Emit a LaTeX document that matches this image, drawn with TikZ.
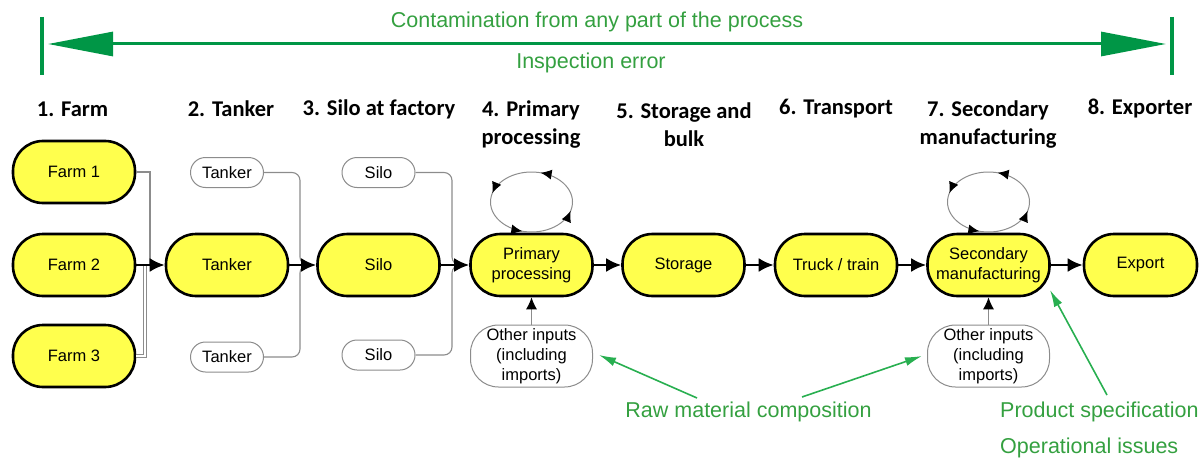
\documentclass[tikz,border=0pt]{standalone}
\usepackage{fontspec}
\setmainfont{Liberation Sans}
\newfontfamily\headfont{Carlito}
\usetikzlibrary{arrows.meta,decorations.markings}

\definecolor{boxyellow}{RGB}{255,255,77}
\definecolor{spangreen}{RGB}{0,150,70}
\definecolor{notegreen}{RGB}{52,160,64}
\definecolor{ptrgreen}{RGB}{40,175,80}
\definecolor{feedgray}{RGB}{140,140,140}

\begin{document}
\begin{tikzpicture}[x=1pt,y=1pt,
  stagebox/.style={draw=black, line width=2.6pt, fill=boxyellow, rounded corners=30pt,
    minimum width=122pt, minimum height=62pt, inner sep=0pt, align=center,
    font=\fontsize{16.5}{20}\selectfont},
  unitbox/.style={draw=feedgray, line width=1pt, fill=white, rounded corners=15pt,
    minimum width=73pt, minimum height=30pt, inner sep=0pt,
    font=\fontsize{16.5}{20}\selectfont},
  inbox/.style={draw=feedgray, line width=1pt, fill=white, rounded corners=28pt,
    minimum width=122pt, minimum height=62pt, inner sep=0pt, align=center,
    font=\fontsize{16.5}{20}\selectfont},
  hdr/.style={font=\headfont\bfseries\fontsize{22.5}{28}\selectfont, align=center, inner sep=0pt},
  notetext/.style={text=notegreen, font=\fontsize{21.5}{26}\selectfont, inner sep=0pt},
  flowarrow/.style={line width=2.6pt, -{Latex[length=15pt,width=14pt]}},
  feedline/.style={draw=feedgray, line width=1.1pt},
  inarrow/.style={draw=feedgray, line width=1.1pt, -{Latex[length=12pt,width=11pt,color=black]}},
  ptr/.style={draw=ptrgreen, line width=1.6pt, -{Latex[length=17pt,width=9pt]}},
  cyclepath/.style={draw=feedgray, line width=1pt, postaction={decorate},
    decoration={markings,
      mark=at position 0.11 with {\arrow[black]{Latex[length=11pt,width=10pt]}},
      mark=at position 0.36 with {\arrow[black]{Latex[length=11pt,width=10pt]}},
      mark=at position 0.61 with {\arrow[black]{Latex[length=11pt,width=10pt]}},
      mark=at position 0.86 with {\arrow[black]{Latex[length=11pt,width=10pt]}}}}
]
\useasboundingbox (0,0) rectangle (1204,459);

% ---- span arrow across the whole chain
\coordinate (spanL) at (48,415);
\coordinate (spanR) at (1166,415);
\coordinate (barLt) at (41.5,442);
\coordinate (barLb) at (41.5,384);
\coordinate (barRt) at (1172,442);
\coordinate (barRb) at (1172,384);
\draw[spangreen, line width=4pt] (barLt) -- (barLb);
\draw[spangreen, line width=4pt] (barRt) -- (barRb);
\draw[spangreen, line width=3pt,
  {Triangle[length=65pt,width=24pt]}-{Triangle[length=65pt,width=24pt]}] (spanL) -- (spanR);
\node[notetext] (contam) at (597,437) {Contamination from any part of the process};
\node[notetext] (inspect) at (591,396) {Inspection error};

% ---- stage headings
\node[hdr] (h1) at (72.5,350) {1. Farm};
\node[hdr] (h2) at (231,350) {2. Tanker};
\node[hdr] (h3) at (379,350) {3. Silo at factory};
\node[hdr] (h4) at (531,334.5) {4. Primary\\processing};
\node[hdr] (h5) at (684,334.5) {5. Storage and\\bulk};
\node[hdr] (h6) at (836,350) {6. Transport};
\node[hdr] (h7) at (988,334.5) {7. Secondary\\manufacturing};
\node[hdr] (h8) at (1140,350) {8. Exporter};

% ---- main chain
\node[stagebox] (f1) at (74,287) {Farm 1};
\node[stagebox] (f2) at (74,194) {Farm 2};
\node[stagebox] (f3) at (74,103) {Farm 3};
\node[stagebox] (tk) at (227,194) {Tanker};
\node[stagebox] (sl) at (378.5,194) {Silo};
\node[stagebox] (pp) at (531.5,194) {Primary\\processing};
\node[stagebox] (st) at (683.5,194) {Storage};
\node[stagebox] (tr) at (836,194) {Truck / train};
\node[stagebox] (sm) at (988.5,194) {Secondary\\manufacturing};
\node[stagebox, minimum width=113pt] (ex) at (1140.5,194) {Export};

% ---- parallel units
\node[unitbox] (tkA) at (227,286.5) {Tanker};
\node[unitbox] (tkB) at (227,102) {Tanker};
\node[unitbox] (slA) at (378.5,286.5) {Silo};
\node[unitbox] (slB) at (378.5,104) {Silo};

% ---- other inputs
\node[inbox] (oi1) at (531.5,103) {Other inputs\\(including\\imports)};
\node[inbox] (oi2) at (988.5,103) {Other inputs\\(including\\imports)};

% ---- feeder lines merging into the chain
\coordinate (m1) at (150,194);
\coordinate (m3) at (145,194);
\draw[feedline] (f1.east) -| (m1);
\draw[feedline, line width=0.9pt, double=white, double distance=2pt] (f3.east) -| (m3);
\coordinate (m2) at (312,194);
\coordinate (m4) at (464,194);
\draw[feedline, rounded corners=8pt] (tkA.east) -- (300,286.5) -- (300,194) -- (m2);
\draw[feedline, rounded corners=8pt] (tkB.east) -- (300,102) -- (300,194) -- (m2);
\draw[feedline, rounded corners=8pt] (slA.east) -- (452,286.5) -- (452,194) -- (m4);
\draw[feedline, rounded corners=8pt] (slB.east) -- (452,104) -- (452,194) -- (m4);

% ---- main flow
\draw[flowarrow] (f2) -- (tk);
\draw[flowarrow] (tk) -- (sl);
\draw[flowarrow] (sl) -- (pp);
\draw[flowarrow] (pp) -- (st);
\draw[flowarrow] (st) -- (tr);
\draw[flowarrow] (tr) -- (sm);
\draw[flowarrow] (sm) -- (ex);

% ---- inputs feeding processing
\draw[inarrow] (oi1) -- (pp);
\draw[inarrow] (oi2) -- (sm);

% ---- rework cycles
\path[cyclepath] ([yshift=63pt]pp.center) ++(220:41pt and 30pt)
  arc[start angle=220, end angle=580, x radius=41pt, y radius=30pt];
\path[cyclepath] ([yshift=63pt]sm.center) ++(220:41pt and 30pt)
  arc[start angle=220, end angle=580, x radius=41pt, y radius=30pt];

% ---- annotations
\node[notetext] (raw) at (748.5,47) {Raw material composition};
\node[notetext, anchor=west] (spec) at (1000,47) {Product specification};
\node[notetext, anchor=west] (ops) at (1000,11) {Operational issues};
\coordinate (rawL) at (697,61);
\coordinate (rawR) at (802,62);
\coordinate (tipL) at (599,104);
\coordinate (tipR) at (922,103);
\coordinate (specT) at (1107,64);
\coordinate (tipS) at (1050,169);
\draw[ptr] (rawL) -- (tipL);
\draw[ptr] (rawR) -- (tipR);
\draw[ptr] (specT) -- (tipS);
\end{tikzpicture}
\end{document}
